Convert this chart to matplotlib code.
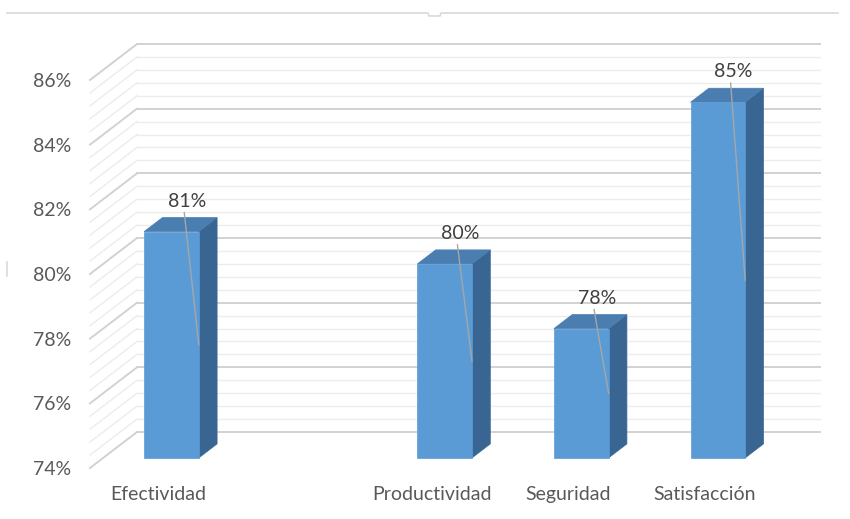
import numpy as np
import matplotlib
matplotlib.use("Agg")
import matplotlib.pyplot as plt
from matplotlib.patches import Polygon
from matplotlib.lines import Line2D

# ---- data ----
categories = ["Efectividad", "", "Productividad", "Seguridad", "Satisfacción"]
values = [81, None, 80, 78, 85]
labels = ["81%", "", "80%", "78%", "85%"]
ymin, ymax = 74, 86
major_ticks = [74, 76, 78, 80, 82, 84, 86]
tick_labels = ["74%", "76%", "78%", "80%", "82%", "84%", "86%"]

plt.rcParams["font.family"] = ["Lato", "DejaVu Sans"]

fig = plt.figure(figsize=(8.5, 5.19), dpi=100)
W, H = 850, 519
ax = fig.add_axes([90 / W, 1 - 468 / H, (773 - 90) / W, (468 - 80) / H])
ax.set_xlim(-0.5, len(categories) - 0.5)
ax.set_ylim(ymin, ymax)

# oblique depth (data units per full depth)
DX, DY = 0.344, 1.113


def P(x, y, d):
    return (x + d * DX, y + d * DY)


xl, xr = -0.5, len(categories) - 0.5
grid_minor = "#ececec"
grid_major = "#d2d2d2"
minor = np.round(np.arange(ymin, ymax + 0.001, 0.4), 2)
for y in minor:
    is_major = abs((y - ymin) % 2) < 1e-6 or abs((y - ymin) % 2 - 2) < 1e-6
    col = grid_major if is_major else grid_minor
    lw = 1.4 if is_major else 1.0
    # back wall
    a, b = P(xl, y, 1), P(xr, y, 1)
    ax.add_line(Line2D([a[0], b[0]], [a[1], b[1]], color=col, lw=lw, clip_on=False, zorder=1))
    # side wall
    a, b = P(xl, y, 0), P(xl, y, 1)
    ax.add_line(Line2D([a[0], b[0]], [a[1], b[1]], color=col, lw=lw, clip_on=False, zorder=1))

# bars
w = 0.4
d0, d1 = 0.28, 0.67
c_front = "#5b9bd5"
c_side = "#386592"
c_top = "#4a7db0"
for i, v in enumerate(values):
    if v is None:
        continue
    xL, xR = i - w / 2, i + w / 2
    side = [P(xR, ymin, d0), P(xR, ymin, d1), P(xR, v, d1), P(xR, v, d0)]
    top = [P(xL, v, d0), P(xR, v, d0), P(xR, v, d1), P(xL, v, d1)]
    front = [P(xL, ymin, d0), P(xR, ymin, d0), P(xR, v, d0), P(xL, v, d0)]
    for poly, col in ((side, c_side), (top, c_top), (front, c_front)):
        ax.add_patch(Polygon(poly, closed=True, facecolor=col, edgecolor=col,
                             lw=0.5, clip_on=False, zorder=3))
    # label and leader line
    lx, ly = i + 0.21, v + 1.25
    ax.text(lx, ly, labels[i], ha="center", va="center", fontsize=14,
            color="#404040", zorder=5, clip_on=False)
    ex, ey = P(xR, (ymin + v) / 2, d0)
    ax.add_line(Line2D([lx - 0.02, ex], [ly - 0.35, ey], color="#a6a6a6", lw=1.0,
                       clip_on=False, zorder=4))

# axes styling
for s in ax.spines.values():
    s.set_visible(False)
ax.set_yticks(major_ticks)
ax.set_yticklabels(tick_labels)
ax.set_xticks(range(len(categories)))
ax.set_xticklabels(categories)
ax.tick_params(axis="y", length=0, pad=13.5, labelsize=14, labelcolor="#595959")
ax.tick_params(axis="x", length=0, pad=13, labelsize=14, labelcolor="#595959")
ax.set_facecolor("none")

# chart area border fragments (selection handles)
bx = [7, 428, 429, 440, 441, 838]
by = [13, 13, 16, 16, 13, 13]
fig.add_artist(Line2D([x / W for x in bx], [1 - y / H for y in by], color="#d9d9d9", lw=1.2))
fig.add_artist(Line2D([7 / W, 7 / W], [1 - 262 / H, 1 - 276 / H], color="#d9d9d9", lw=1.2))

fig.savefig("out.png", dpi=100, facecolor="white")
